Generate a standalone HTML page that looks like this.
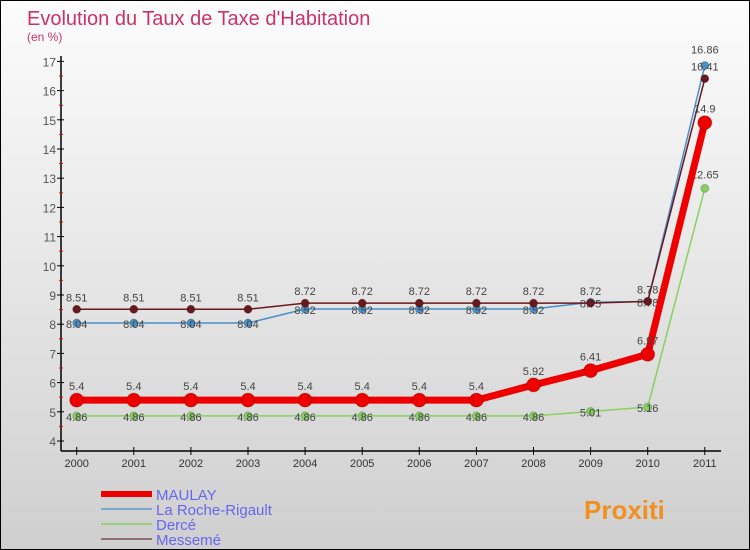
<!DOCTYPE html>
<html><head><meta charset="utf-8"><style>
body{margin:0}
#c{position:relative;width:748px;height:548px;border:1px solid #000;background:linear-gradient(#fcfcfc,#e6e6e6 50%,#cfcfcf);font-family:"Liberation Sans",sans-serif;overflow:hidden}
svg{position:absolute;left:0;top:0}
</style></head><body>
<div id="c">
<svg id="s" width="750" height="550">
<text x="26" y="24" font-size="20" fill="#c8336a">Evolution du Taux de Taxe d'Habitation</text>
<text x="26" y="40" font-size="12" fill="#c8336a">(en %)</text>
</svg>
</div>
<script>
const years=["2000","2001","2002","2003","2004","2005","2006","2007","2008","2009","2010","2011"];
const maulay=[5.4,5.4,5.4,5.4,5.4,5.4,5.4,5.4,5.92,6.41,6.97,14.9];
const roche=[8.04,8.04,8.04,8.04,8.52,8.52,8.52,8.52,8.52,8.75,8.78,16.86];
const derce=[4.86,4.86,4.86,4.86,4.86,4.86,4.86,4.86,4.86,5.01,5.16,12.65];
const messeme=[8.51,8.51,8.51,8.51,8.72,8.72,8.72,8.72,8.72,8.72,8.78,16.41];
const yTicks=[4,5,6,7,8,9,10,11,12,13,14,15,16,17];
const NS="http://www.w3.org/2000/svg",s=document.getElementById('s');
const X=i=>75.7+i*57.1, Y=v=>440-(v-4)*29.2;
function el(t,a){const e=document.createElementNS(NS,t);for(const k in a)e.setAttribute(k,a[k]);s.appendChild(e);return e;}
let e=el('line',{x1:60,y1:55,x2:60,y2:450,stroke:'#000','stroke-width':1.5});

e=el('line',{x1:60,y1:450,x2:720,y2:450,stroke:'#000','stroke-width':1.5});

yTicks.forEach(v=>{
 el('line',{x1:56,y1:Y(v),x2:63,y2:Y(v),stroke:'#000'});
 if(v<17)el('line',{x1:58,y1:Y(v+0.5),x2:62,y2:Y(v+0.5),stroke:'#e00'});
 const t=el('text',{x:55,y:Y(v)+5,'font-size':12,fill:'#555','text-anchor':'end'});t.textContent=v;
 
});
years.forEach((y,i)=>{
 el('line',{x1:X(i),y1:446,x2:X(i),y2:454,stroke:'#000'});
 const t=el('text',{x:X(i),y:466,'font-size':11,fill:'#333','text-anchor':'middle'});t.textContent=y;
 
});
function series(d,col,w,r,name,dy,lastDy){
 const p=el('polyline',{points:d.map((v,i)=>X(i)+','+Y(v)).join(' '),fill:'none',stroke:col,'stroke-width':w});
 
 d.forEach((v,i)=>{
  const c=el('circle',{cx:X(i),cy:Y(v),r:r,fill:col,stroke:'rgba(0,0,0,0.2)'});
  
  const dd=(i===d.length-1&&lastDy!==undefined)?lastDy:dy;
  const t=el('text',{x:X(i),y:Y(v)+dd,'font-size':11,fill:'#444','text-anchor':'middle'});t.textContent=v;
  
 });
}
series(derce,'#88d060',1.5,4,'derce',5,-10);
series(roche,'#4a90c8',1.5,4,'la-roche-rigault',5,-12);
series(messeme,'#6a1820',1.5,4,'messeme',-8,-8);
series(maulay,'#ee0000',7,7,'maulay',-10);
const leg=[['MAULAY','#ee0000',6],['La Roche-Rigault','#7aaad0',2],['Dercé','#98d080',2],['Messemé','#907070',2]];
leg.forEach((l,i)=>{
 const y=493+i*15;
 const ln=el('line',{x1:100,y1:y,x2:151,y2:y,stroke:l[1],'stroke-width':l[2]});
 
 const t=el('text',{x:155,y:y+6,'font-size':15,fill:'#6666ee'});t.textContent=l[0];
 
});
const lg=el('text',{x:583,y:518,'font-size':26,'font-weight':'bold',fill:'#f09020'});lg.textContent='Proxiti';

</script>
</body></html>
